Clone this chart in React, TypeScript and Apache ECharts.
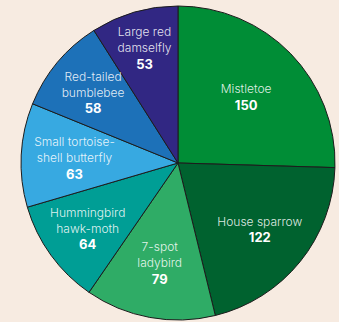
import React, { useEffect, useRef } from "react";
import * as echarts from "echarts";

const names = [
  "Mistletoe",
  "House sparrow",
  "7-spot\nladybird",
  "Hummingbird\nhawk-moth",
  "Small tortoise-\nshell butterfly",
  "Red-tailed\nbumblebee",
  "Large red\ndamselfly",
];
const values = [150, 122, 79, 64, 63, 58, 53];
const colors = ["#008d36", "#00622f", "#2fac66", "#009e95", "#37a9e1", "#1d71b8", "#312783"];
// label distance from centre, as a share of the radius
const labelDist = [0.605, 0.67, 0.645, 0.71, 0.66, 0.705, 0.765];

const CX = 178;
const CY = 163;
const R = 157;

export default function App() {
  const ref = useRef<HTMLDivElement>(null);
  useEffect(() => {
    const chart = echarts.init(ref.current!, null, { renderer: "svg" });
    const total = values.reduce((a, b) => a + b, 0);
    const mids: number[] = [];
    let cum = 0;
    values.forEach((v) => {
      mids.push(((cum + v / 2) / total) * Math.PI * 2);
      cum += v;
    });
    chart.setOption({
      animation: false,
      backgroundColor: "#f7ebe1",
      textStyle: { fontFamily: "Inter, 'Noto Sans', sans-serif" },
      series: [
        {
          type: "pie",
          center: [CX, CY],
          radius: [0, R],
          startAngle: 90,
          clockwise: true,
          silent: true,
          itemStyle: { borderColor: "#1c1c1c", borderWidth: 1 },
          labelLine: { show: false },
          label: {
            show: true,
            position: "inside",
            formatter: (p: any) =>
              String(p.name)
                .split("\n")
                .map((l: string) => `{n|${l}}`)
                .join("\n") + `\n{v|${p.value}}`,
            rich: {
              n: {
                fontSize: 12,
                lineHeight: 16,
                fontWeight: 300,
                color: "rgba(255,255,255,0.88)",
                fontFamily: "Inter, 'Noto Sans', sans-serif",
              },
              v: {
                fontSize: 13,
                lineHeight: 16,
                fontWeight: "bold",
                color: "#ffffff",
                fontFamily: "Inter, 'Noto Sans', sans-serif",
              },
            },
          },
          labelLayout: (params: any) => {
            const i = params.dataIndex;
            const d = labelDist[i] * R;
            return {
              x: CX + d * Math.sin(mids[i]),
              y: CY - d * Math.cos(mids[i]),
              align: "center",
              verticalAlign: "middle",
            };
          },
          data: values.map((v, i) => ({
            name: names[i],
            value: v,
            itemStyle: { color: colors[i] },
          })),
        },
      ],
    });
    return () => chart.dispose();
  }, []);
  return (
    <div
      ref={ref}
      style={{ position: "fixed", left: 0, top: 0, width: 339, height: 322 }}
    />
  );
}
